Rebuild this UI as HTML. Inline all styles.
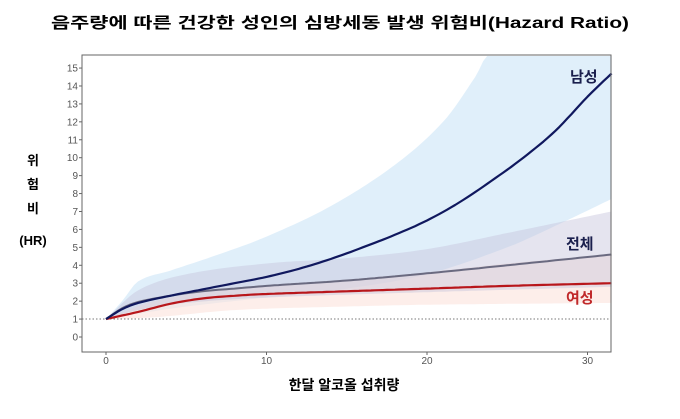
<!DOCTYPE html>
<html><head><meta charset="utf-8"><style>
body{margin:0;background:#fff;width:680px;height:414px;overflow:hidden}
text{font-family:"Liberation Sans","Noto Sans CJK KR",sans-serif}
</style></head><body>
<svg id="s" width="680" height="414" xmlns="http://www.w3.org/2000/svg">
<text x="340" y="28" text-anchor="middle" font-size="15.5" font-weight="bold" textLength="578" lengthAdjust="spacingAndGlyphs">음주량에 따른 건강한 성인의 심방세동 발생 위험비(Hazard Ratio)</text>
<g id="bands"></g>
<line x1="82" y1="319" x2="611" y2="319" stroke="#777" stroke-width="1" stroke-dasharray="1.5,2"/>
<g id="lines"></g>
<rect x="82" y="55" width="529" height="297" fill="none" stroke="#666" stroke-width="1"/>
<g id="ticks" font-size="10" fill="#555"></g>
<text x="570" y="82" font-size="15" font-weight="bold" fill="#1a1f4d">남성</text>
<text x="566" y="249" font-size="15" font-weight="bold" fill="#1a1f4d">전체</text>
<text x="566" y="303" font-size="15" font-weight="bold" fill="#c0282a">여성</text>
<g font-size="13" font-weight="bold" text-anchor="middle">
<text x="33" y="165">위</text><text x="33" y="189">험</text><text x="33" y="213">비</text><text x="33" y="245">(HR)</text>
</g>
<text x="344" y="390" text-anchor="middle" font-size="14" font-weight="bold">한달 알코올 섭취량</text>
</svg>
<script>
const X=t=>106+16.05*t, Y=v=>337-17.93*v;
function interp(p,t){for(let i=0;i<p.length-1;i++){if(t<=p[i+1][0]){const a=p[i],b=p[i+1],f=(t-a[0])/(b[0]-a[0]);
const p0=p[i-1]||[a[0]-(b[0]-a[0]),2*a[1]-b[1]],p3=p[i+2]||[b[0]+(b[0]-a[0]),2*b[1]-a[1]];
const h=b[0]-a[0],m1=(b[1]-p0[1])/(b[0]-p0[0])*h,m2=(p3[1]-a[1])/(p3[0]-a[0])*h;
const f2=f*f,f3=f2*f;return (2*f3-3*f2+1)*a[1]+(f3-2*f2+f)*m1+(-2*f3+3*f2)*b[1]+(f3-f2)*m2}}return p[p.length-1][1]}
function pts(p){let s=[];for(let t=0;t<=31.5;t+=0.25)s.push(X(t).toFixed(1)+','+Math.max(Y(interp(p,t)),56).toFixed(1));return s}
function band(u,l,c,o){const a=pts(u),b=pts(l).reverse();return `<polygon points="${a.join(' ')} ${b.join(' ')}" fill="${c}" fill-opacity="${o}"/>`}
function line(p,c,w){return `<polyline points="${pts(p).join(' ')}" fill="none" stroke="${c}" stroke-width="${w}" stroke-linejoin="round"/>`}
const male=[[0,1],[1,1.55],[2,1.9],[4,2.3],[6,2.65],[8,3.0],[10,3.35],[12,3.8],[14,4.35],[16,5.0],[18,5.7],[20,6.5],[22,7.5],[24,8.7],[26,10.0],[28,11.5],[30,13.4],[31.5,14.7]];
const tot=[[0,1],[1,1.6],[2,1.95],[4,2.3],[6,2.55],[8,2.7],[10,2.85],[15,3.15],[20,3.55],[25,4.0],[31.5,4.6]];
const fem=[[0,1],[2,1.4],[4,1.85],[6,2.15],[8,2.3],[10,2.4],[15,2.55],[20,2.7],[25,2.85],[31.5,3.0]];
const mu=[[0,1],[1,2],[2,3.1],[4,3.7],[7,4.6],[10,5.6],[14,7.3],[18,9.6],[21,12],[23,14.5],[24,16],[31.5,16.5]];
const ml=[[0,1],[2,1.3],[5,1.7],[10,2.2],[15,2.7],[20,3.5],[25,5],[28,6.2],[31.5,7.7]];
const tu=[[0,1],[2,2.6],[5,3.5],[10,4.1],[15,4.4],[20,4.9],[25,5.8],[31.5,7.0]];
const tl=[[0,1],[2,1.5],[5,1.9],[10,2.2],[20,2.5],[31.5,2.8]];
const fu=[[0,1],[3,2.0],[8,2.7],[15,3.2],[20,3.6],[25,4.1],[31.5,4.6]];
const fl=[[0,1],[3,1.1],[8,1.5],[15,1.7],[20,1.8],[31.5,1.9]];
document.getElementById('bands').innerHTML=band(mu,ml,'#cfe6f7',0.65)+band(fu,fl,'#fbe3dc',0.6)+band(tu,tl,'#c6c3dc',0.45);
document.getElementById('lines').innerHTML=line(tot,'#6a6a80',2)+line(fem,'#b8161b',2.2)+line(male,'#10185e',2.2);
let g='';for(let v=0;v<=15;v++){const y=Y(v);g+=`<text x="78" y="${y+3.5}" text-anchor="end">${v}</text><line x1="79" x2="82" y1="${y}" y2="${y}" stroke="#666"/>`}
for(const t of [0,10,20,30]){const x=X(t);g+=`<text x="${x}" y="364" text-anchor="middle">${t}</text><line x1="${x}" x2="${x}" y1="352" y2="355" stroke="#666"/>`}
document.getElementById('ticks').innerHTML=g;
</script>
</body></html>
